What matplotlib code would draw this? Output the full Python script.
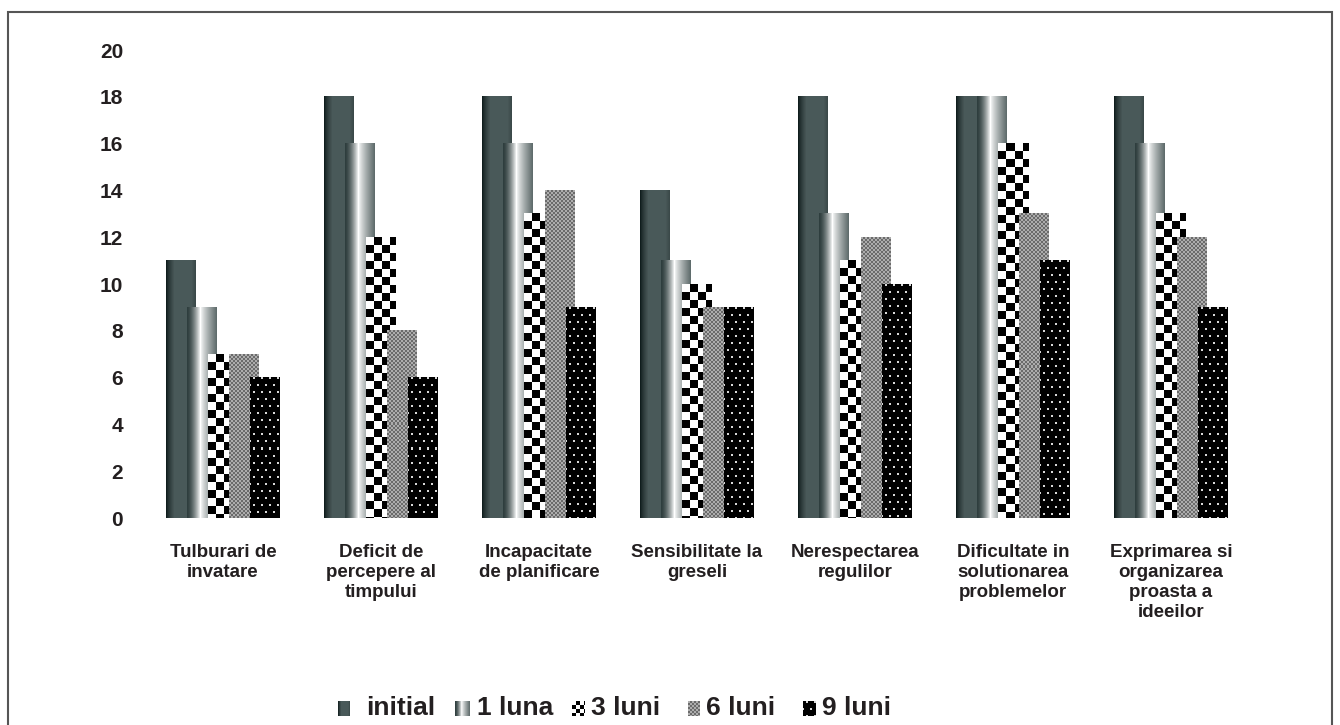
import matplotlib
matplotlib.use('Agg')
import matplotlib.pyplot as plt
from matplotlib.patches import Rectangle
import numpy as np

categories = ['Tulburari de\ninvatare',
              'Deficit de\npercepere al\ntimpului',
              'Incapacitate\nde planificare',
              'Sensibilitate la\ngreseli',
              'Nerespectarea\nregulilor',
              'Dificultate in\nsolutionarea\nproblemelor',
              'Exprimarea si\norganizarea\nproasta a\nideeilor']
series_names = ['initial', '1 luna', '3 luni', '6 luni', '9 luni']
initial = [11, 18, 18, 14, 18, 18, 18]
luna_1 = [9, 16, 16, 11, 13, 18, 16]
luni_3 = [7, 12, 13, 10, 11, 16, 13]
luni_6 = [7, 8, 14, 9, 12, 13, 12]
luni_9 = [6, 6, 9, 9, 10, 11, 9]
series = [initial, luna_1, luni_3, luni_6, luni_9]
yticks = list(range(0, 21, 2))

TEXT = '#231f20'
plt.rcParams['font.family'] = ['Liberation Sans', 'DejaVu Sans']
plt.rcParams['font.weight'] = 'bold'

W, H = 1340, 725
fig = plt.figure(figsize=(W / 100, H / 100), dpi=100)

# plot area in pixels
left_px, right_px, top_px, base_px = 144, 1250, 50, 518
ax = fig.add_axes([left_px / W, 1 - base_px / H,
                   (right_px - left_px) / W, (base_px - top_px) / H])
ax.set_xlim(-0.5, len(categories) - 0.5)
ax.set_ylim(0, 20)
px_x = (right_px - left_px) / len(categories)   # pixels per category
px_y = (base_px - top_px) / 20.0                 # pixels per unit

bar_w = 30 / px_x
step = 21 / px_x


def fill_pattern(k, hpx, wpx, cell=8):
    """RGB pixel array for a bar of series k."""
    yy, xx = np.mgrid[0:hpx, 0:wpx]
    t = (xx + 0.5) / wpx
    if k == 0:
        # dark cylinder: black edge fading into slate grey
        dark = np.array([0.03, 0.08, 0.08])
        mid = np.array([0.29, 0.35, 0.35])
        a = np.clip(t / 0.28, 0, 1) ** 0.7
        b = np.clip((1 - t) / 0.15, 0, 1)
        a = a * (0.75 + 0.25 * b)
        img = dark + (mid - dark) * a[..., None]
    elif k == 1:
        # grey-white-grey gradient
        left = np.array([0.18, 0.24, 0.24])
        white = np.array([1.0, 1.0, 1.0])
        right = np.array([0.36, 0.41, 0.41])
        tp = 0.45
        a1 = np.clip(t / tp, 0, 1) ** 1.6
        a2 = np.clip((t - tp) / (1 - tp), 0, 1) ** 0.8
        img = left + (white - left) * a1[..., None]
        img = np.where((t > tp)[..., None],
                       white + (right - white) * a2[..., None], img)
    elif k == 2:
        # coarse black/white checkerboard
        c = ((xx // cell) + (yy // cell)) % 2
        img = np.where(c[..., None] == 1, 0.0, 1.0) * np.ones(3)
    elif k == 3:
        # fine grey checkerboard
        c = ((xx // 2) + (yy // 2)) % 2
        img = np.where(c[..., None] == 1, 0.42, 0.68) * np.ones(3)
    else:
        # black with small white dots
        img = np.zeros((hpx, wpx, 3))
        row = yy // 7
        off = np.where(row % 2 == 0, 3, 7)
        dot = ((yy % 7) < 2) & (((xx - off) % 8) < 2)
        img[dot] = 0.85
    return np.clip(img, 0, 1)


n = len(series)
for k, vals in enumerate(series):
    for i, v in enumerate(vals):
        x0 = i - (bar_w + step * (n - 1)) / 2 + k * step
        hpx = max(int(round(v * px_y)), 1)
        img = fill_pattern(k, hpx, 30)
        ax.imshow(img, extent=(x0, x0 + bar_w, 0, v), aspect='auto',
                  interpolation='nearest', origin='upper', zorder=2 + k)

ax.set_xlim(-0.5, len(categories) - 0.5)
ax.set_ylim(0, 20)
for s in ax.spines.values():
    s.set_visible(False)
ax.set_yticks(yticks)
ax.set_yticklabels([str(t) for t in yticks], fontsize=15, color=TEXT,
                   fontweight='bold')
ax.tick_params(axis='y', length=0, pad=15)
ax.set_xticks([])
for i, lab in enumerate(categories):
    ax.text(i, -1.1, lab, ha='center', va='top', fontsize=13.5,
            color=TEXT, fontweight='bold', linespacing=1.25)

# legend along the bottom
legend_px = [(338, 12, 366), (455, 15, 477), (572, 13, 591),
             (688, 12, 706), (803, 13, 822)]
ly = 708
for k, (hx, hw, tx) in enumerate(legend_px):
    hax = fig.add_axes([hx / W, 1 - (ly + 8) / H, hw / W, 15 / H])
    hax.imshow(fill_pattern(k, 15, hw, cell=4), aspect='auto',
               interpolation='nearest')
    hax.axis('off')
    fig.text(tx / W, 1 - ly / H, series_names[k], ha='left', va='center',
             fontsize=19, color=TEXT, fontweight='bold')

# outer frame
fig.patches.append(Rectangle((8 / W, -0.02), (1332 - 8) / W, 1.02 - 12 / H,
                             transform=fig.transFigure, fill=False,
                             edgecolor='#555555', linewidth=1.5))

fig.savefig('out.png', dpi=100)
